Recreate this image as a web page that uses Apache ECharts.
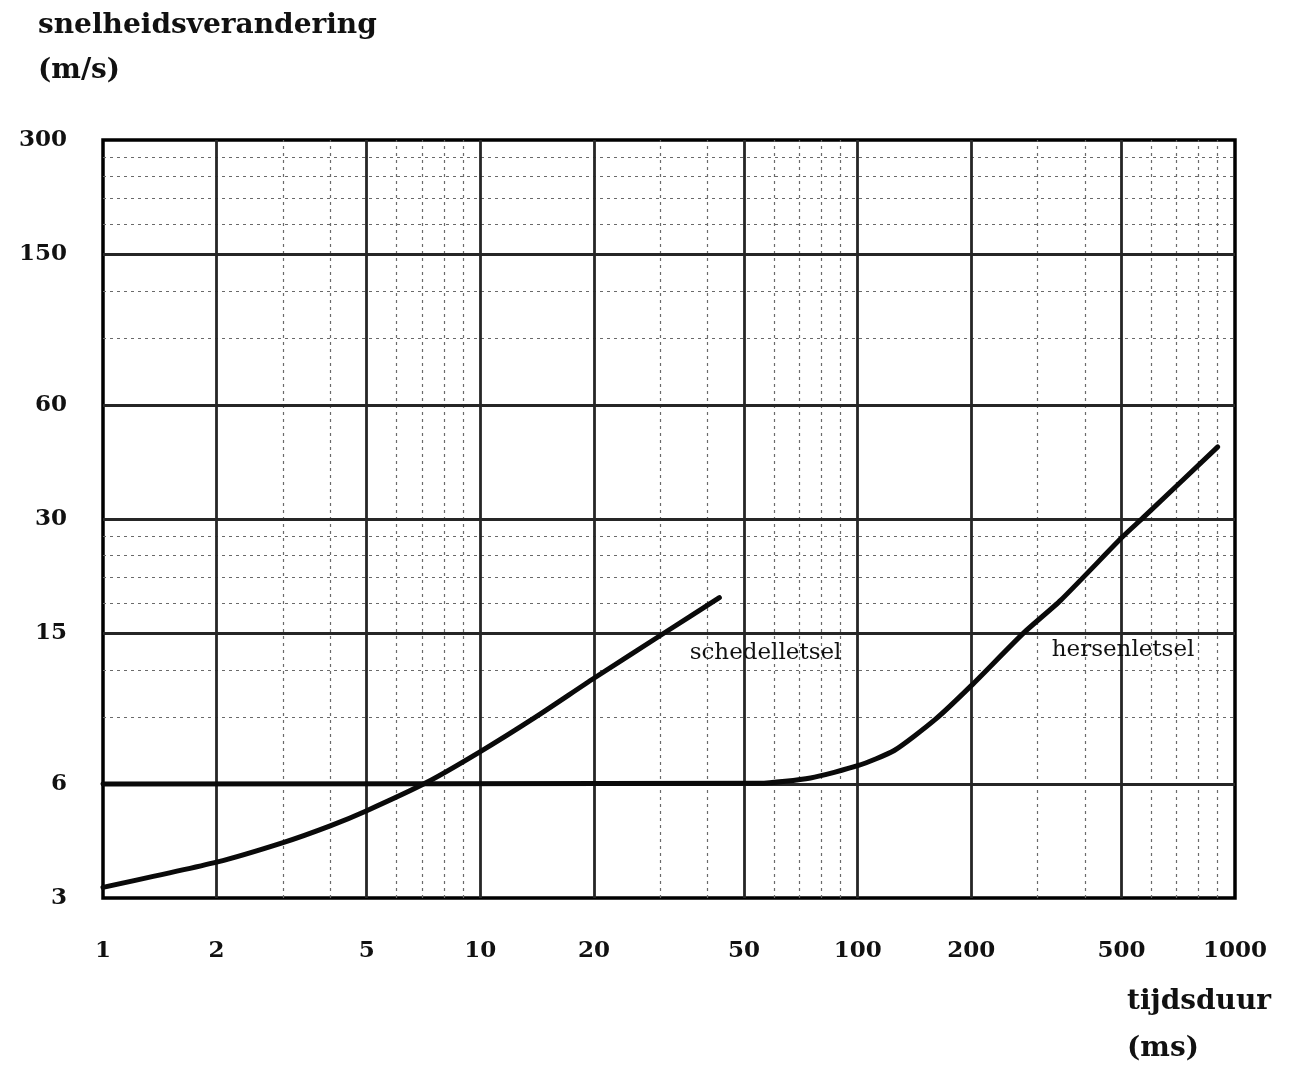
<!DOCTYPE html>
<html>
<head>
<meta charset="utf-8">
<style>
  html, body { margin: 0; padding: 0; background: #ffffff; }
  #chart { width: 1297px; height: 1073px; }
</style>
<script src="https://cdn.jsdelivr.net/npm/echarts@6/dist/echarts.min.js"></script>
</head>
<body>
<div id="chart"></div>
<script>
// Tick labels
const xLabels = [1, 2, 5, 10, 20, 50, 100, 200, 500, 1000];
const yLabels = [3, 6, 15, 30, 60, 150, 300];

// Grid lines of the log paper
const xMajor = [2, 5, 10, 20, 50, 100, 200, 500];
const xMinor = [3, 4, 6, 7, 8, 9, 30, 40, 60, 70, 80, 90, 300, 400, 600, 700, 800, 900];
const yMajor = [6, 15, 30, 60, 150];
const yMinor = [9, 12, 18, 21, 24, 27, 90, 120, 180, 210, 240, 270];

// Curves: [tijdsduur (ms), snelheidsverandering (m/s)]
const schedelletsel = [[1, 3.2], [2, 3.73], [3, 4.2], [4, 4.65], [5, 5.1], [7.2, 6.05], [10, 7.3], [14, 9.0], [20, 11.4], [31, 15.1], [43, 18.6]];
const hersenletsel = [[1, 6], [55, 6.02], [75, 6.22], [100, 6.7], [125, 7.35], [160, 8.85], [200, 10.9], [275, 15], [345, 18.3], [505, 27], [570, 30.2], [900, 46.5]];

const FONT = '"DejaVu Serif", "Liberation Serif", serif';
const INK = '#111111';

const chart = echarts.init(document.getElementById('chart'), null, { renderer: 'canvas' });

const option = {
  backgroundColor: '#ffffff',
  animation: false,
  grid: {
    left: 103, right: 62, top: 140, bottom: 175,
    show: true, borderColor: '#000000', borderWidth: 3.5, backgroundColor: 'transparent'
  },
  xAxis: {
    type: 'log', logBase: 10, min: 1, max: 1000,
    axisLine: { show: false },
    axisTick: { show: false },
    splitLine: { show: false },
    minorSplitLine: { show: false },
    axisLabel: {
      customValues: xLabels,
      margin: 42,
      color: INK, fontFamily: FONT, fontWeight: 'bold', fontSize: 23,
      formatter: v => String(v)
    }
  },
  yAxis: {
    type: 'log', logBase: 10, min: 3, max: 300,
    axisLine: { show: false },
    axisTick: { show: false },
    splitLine: { show: false },
    minorSplitLine: { show: false },
    axisLabel: {
      customValues: yLabels,
      margin: 36,
      color: INK, fontFamily: FONT, fontWeight: 'bold', fontSize: 23,
      formatter: v => String(v)
    }
  },
  graphic: [
    { type: 'text', x: 38, y: 26, style: { text: 'snelheidsverandering', font: 'bold 28px ' + FONT, fill: INK, textAlign: 'left', textVerticalAlign: 'middle' } },
    { type: 'text', x: 38, y: 71, style: { text: '(m/s)', font: 'bold 28px ' + FONT, fill: INK, textAlign: 'left', textVerticalAlign: 'middle' } },
    { type: 'text', x: 1127, y: 1002, style: { text: 'tijdsduur', font: 'bold 28px ' + FONT, fill: INK, textAlign: 'left', textVerticalAlign: 'middle' } },
    { type: 'text', x: 1127, y: 1049, style: { text: '(ms)', font: 'bold 28px ' + FONT, fill: INK, textAlign: 'left', textVerticalAlign: 'middle' } }
  ],
  series: [
    {
      name: 'minor grid', type: 'line', data: [], z: 1, silent: true,
      markLine: {
        silent: true, symbol: 'none', animation: false,
        label: { show: false },
        lineStyle: { color: '#6a6a6a', width: 1.2, type: [3, 4] },
        data: xMinor.map(v => ({ xAxis: v })).concat(yMinor.map(v => ({ yAxis: v })))
      }
    },
    {
      name: 'major grid', type: 'line', data: [], z: 1, silent: true,
      markLine: {
        silent: true, symbol: 'none', animation: false,
        label: { show: false },
        lineStyle: { color: '#262626', width: 2.8, type: 'solid' },
        data: xMajor.map(v => ({ xAxis: v })).concat(yMajor.map(v => ({ yAxis: v })))
      }
    },
    {
      name: 'schedelletsel', type: 'line', data: schedelletsel, z: 5,
      showSymbol: false, symbol: 'none', smooth: 0.2,
      lineStyle: { color: '#0a0a0a', width: 5, cap: 'round', join: 'round' },
      markPoint: {
        symbol: 'circle', symbolSize: 0, silent: true,
        label: { show: true, position: 'inside', formatter: 'schedelletsel', color: INK, fontFamily: FONT, fontSize: 23 },
        data: [{ coord: [57, 13.3] }]
      }
    },
    {
      name: 'hersenletsel', type: 'line', data: hersenletsel, z: 5,
      showSymbol: false, symbol: 'none', smooth: 0.2,
      lineStyle: { color: '#0a0a0a', width: 5, cap: 'round', join: 'round' },
      markPoint: {
        symbol: 'circle', symbolSize: 0, silent: true,
        label: { show: true, position: 'inside', formatter: 'hersenletsel', color: INK, fontFamily: FONT, fontSize: 23 },
        data: [{ coord: [505, 13.5] }]
      }
    }
  ]
};

chart.setOption(option);
</script>
</body>
</html>
